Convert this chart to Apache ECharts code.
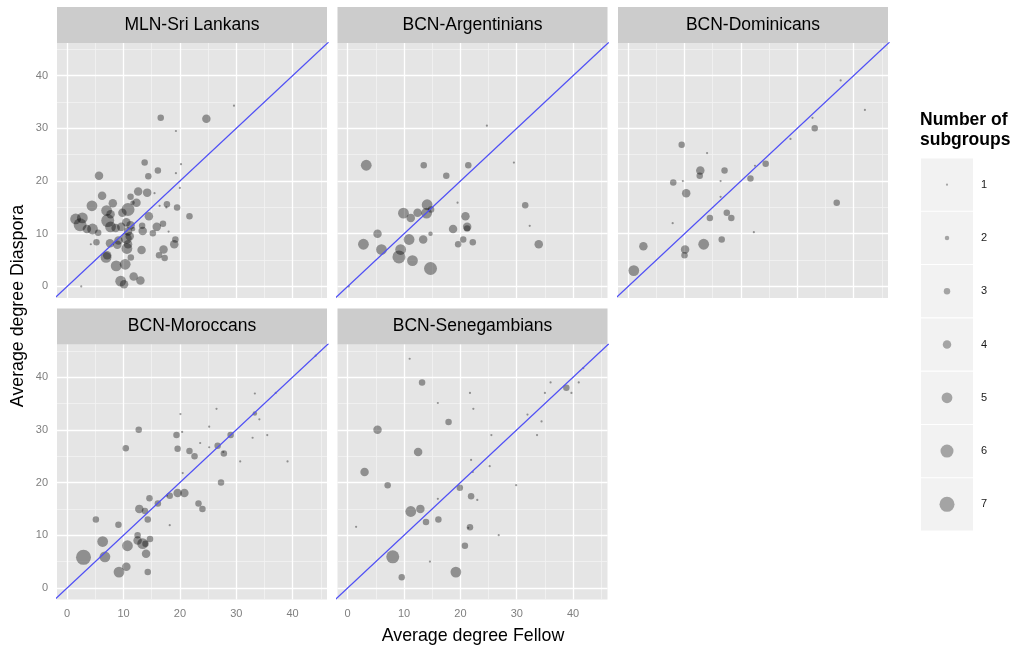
<!DOCTYPE html>
<html><head><meta charset="utf-8">
<script src="https://cdn.jsdelivr.net/npm/echarts@6/dist/echarts.min.js"></script>
<style>html,body{margin:0;padding:0;background:#fff}#c{width:1014px;height:649px}</style>
</head><body><div id="c"></div><script>
// ---------- data: [fellow degree, diaspora degree, number of subgroups] ----------
const panelNames = ['MLN-Sri Lankans','BCN-Argentinians','BCN-Dominicans','BCN-Moroccans','BCN-Senegambians'];
const mlnSriLankans = [
 [2.5,0,1],[16.6,32,3],[24.7,31.8,4],[29.6,34.3,1],[19.3,29.5,1],[13.75,23.5,3],[16.1,22,3],[20.2,23.2,1],
 [19.3,21.5,1],[14.4,20.9,3],[5.65,21,4],[20,18.7,1],[12.6,18,4],[14.2,17.8,4],[15.5,17.7,1],[6.2,17.2,4],
 [11.25,17,3],[12.3,15.9,4],[8.1,15.8,4],[11.6,15.9,2],[4.4,15.3,5],[10.8,14.6,6],[7,14.4,5],[9.8,14,4],
 [7.7,13.7,4],[17.7,15.6,3],[16.4,15.3,1],[19.5,15,3],[17.6,15,1],[21.7,13.3,3],[14.5,13.3,4],[1.5,12.8,5],
 [2.7,13,5],[7.2,12.5,6],[2.3,11.7,6],[3.5,10.9,4],[4.5,10.9,5],[7.7,11.3,5],[8.6,11.1,4],[9.6,11.3,4],
 [10.5,12.2,4],[11.25,11.6,4],[11.7,10.9,2],[10.8,10.4,4],[13.3,11.5,3],[13.4,10.5,4],[15.9,11.3,4],[17,11.9,3],
 [15.2,10.1,3],[18,10.4,1],[5.5,10.2,3],[4.2,8,1],[5.2,8.4,3],[7.6,8.2,4],[9.1,8.7,4],[8.9,7.9,4],
 [10.5,9.1,5],[11.1,9.5,4],[10.6,7.2,5],[10.8,8,4],[13.2,6.9,4],[11.3,5.5,3],[19.2,8.9,3],[19,8,4],
 [17.1,7,4],[16.3,5.9,3],[17.3,5.4,3],[6.9,5.5,5],[7.1,5.9,4],[8.7,3.9,5],[10.3,4.2,5],[11.8,1.9,4],
 [13,1.1,4],[9.5,1,5],[10.1,0.4,4]
];
const bcnArgentinians = [
 [0.2,0,1],[24.7,30.5,1],[3.3,23,5],[13.5,23,3],[21.4,23,3],[29.5,23.5,1],[17.5,21,3],[19.5,15.9,1],
 [31.5,15.4,3],[14.1,15.5,5],[14.8,14.6,3],[14,13.9,5],[12.4,14,4],[9.9,13.9,5],[11.2,13,4],[20.9,13.3,4],
 [32.3,11.5,1],[21.2,11.3,4],[21.2,11,3],[18.7,10.9,4],[14.7,10,2],[5.3,10,4],[10.9,8.9,5],[13.4,8.9,4],
 [20.5,8.9,3],[22.2,8.4,3],[19.6,8,3],[33.9,8,4],[2.8,8,5],[6,7,5],[9.4,7,5],[9.1,5.6,6],[11.5,4.9,5],[14.7,3.4,6]
];
const bcnDominicans = [
 [37.7,39.1,1],[42,33.5,1],[32.7,32,1],[33.1,30,3],[28.8,28,1],[9.5,26.9,3],[14,25.3,1],[12.8,22,4],
 [17.1,22,3],[12.7,21,3],[22.5,22.9,1],[24.4,23.3,3],[21.7,20.5,3],[8,19.7,3],[9.7,20,1],[16.4,20,1],
 [10.3,17.7,4],[16.4,17,1],[37,15.9,3],[17.5,14,3],[14.5,13,3],[18.3,13,3],[7.9,12,1],[22.3,10.3,1],
 [16.6,8.9,3],[13.4,8,5],[2.7,7.6,4],[10.1,7,4],[10,5.9,3],[1,3,5]
];
const bcnMoroccans = [
 [44.1,44.1,1],[33.3,36.9,1],[37,37,1],[26.5,34,1],[20.1,33,1],[33.3,33.1,2],[34.1,32,1],[25.2,30.6,1],
 [12.7,30,3],[20.4,29.6,1],[19.4,29,3],[29,29,3],[32.9,28.5,1],[35.5,29,1],[23.6,27.5,1],[25.2,26.7,1],
 [26.7,27,3],[10.4,26.5,3],[19.6,26.4,3],[21.7,26,3],[22.6,25,3],[27.7,25.8,1],[27.8,25.5,3],[30.7,24,1],
 [39.1,24,1],[20.5,21.8,1],[27.3,20,3],[19.6,18,4],[20.8,18,4],[18.2,17.5,3],[17.7,17.5,1],[14.6,17,3],
 [16.1,16,3],[23.3,16,3],[24,15,3],[12.8,15,4],[13.8,14.6,3],[5.1,13,3],[14.3,13,3],[9.1,12,3],
 [18.2,11.9,1],[12.5,10,3],[12.5,9,4],[14.7,9.3,3],[13.4,8.4,5],[13.9,8.4,3],[6.3,8.8,5],[10.7,8,5],
 [6.7,5.9,5],[14,6.5,4],[2.9,5.8,7],[10.5,4,4],[9.2,3,5],[14.3,3,3]
];
const bcnSenegambians = [
 [11,43.5,1],[13.2,39,3],[21.7,37,1],[16,35.1,1],[22.3,34,1],[17.9,31.5,3],[5.3,30,4],[25.5,29,1],
 [12.5,25.8,4],[21.9,24.3,1],[25.2,23.1,1],[22.2,22,1],[3,22,4],[7.1,19.5,3],[19.9,19,3],[29.9,19.5,1],
 [21.9,17.4,3],[23,16.7,1],[16,16.9,1],[11.2,14.5,5],[12.9,15,4],[16.1,13,3],[13.9,12.5,3],[1.5,11.6,1],
 [21.7,11.5,3],[21.4,11.4,1],[26.8,10,1],[20.8,8,3],[8,5.9,6],[14.6,5,1],[19.2,3,5],[9.6,2,3],
 [31.9,32.9,1],[34.4,31.6,1],[33.6,29,1],[35,37,1],[36,39,1],[38.8,38,3],[39.7,37,1],[41,39,1],[41.8,41.7,1]
];
const panelData = [mlnSriLankans, bcnArgentinians, bcnDominicans, bcnMoroccans, bcnSenegambians];
const xTicks = [0,10,20,30,40];
const yTicks = [0,10,20,30,40];
const minorBreaks = [5,15,25,35,45];
const legendLevels = [1,2,3,4,5,6,7];

// ---------- layout & style ----------
const FONT = "'Liberation Sans', Arial, sans-serif";
const xLim = [-1.8, 46.1], yLim = [-2.2, 46.2];
const sizePx = [2.2, 4.5, 6.5, 8.5, 10.8, 13, 15];
const colLeft = [57, 337.5, 618], panelW = 270;
const rowTop = [43, 344.5], panelH = 255, stripH = 36;
const ptColor = 'rgba(0,0,0,0.47)';

const grid = [], xAxis = [], yAxis = [], series = [], graphic = [];
panelNames.forEach((name, i) => {
  const row = i < 3 ? 0 : 1, col = i % 3;
  const left = colLeft[col], top = rowTop[row];
  grid.push({left, top, width: panelW, height: panelH, show: true, backgroundColor: '#E5E5E5', borderWidth: 0});
  const showX = row === 1, showY = col === 0;
  xAxis.push({gridIndex: i, type: 'value', min: xLim[0], max: xLim[1],
    axisLine: {show: false}, splitLine: {show: false},
    axisTick: {show: showX, length: 4, customValues: xTicks, lineStyle: {color: '#7f7f7f'}},
    axisLabel: {show: showX, customValues: xTicks, color: '#7f7f7f', fontSize: 11, margin: 9, fontFamily: FONT}});
  yAxis.push({gridIndex: i, type: 'value', min: yLim[0], max: yLim[1],
    axisLine: {show: false}, splitLine: {show: false},
    axisTick: {show: showY, length: 4, customValues: yTicks, lineStyle: {color: '#7f7f7f'}},
    axisLabel: {show: showY, customValues: yTicks, color: '#7f7f7f', fontSize: 11, margin: 9, fontFamily: FONT}});
  const minorStyle = {color: '#F2F2F2', width: 0.8, type: 'solid'};
  const majorStyle = {color: '#FFFFFF', width: 1.3, type: 'solid'};
  series.push({type: 'scatter', xAxisIndex: i, yAxisIndex: i, data: [], z: 1, silent: true,
    markLine: {z: 1, silent: true, symbol: ['none','none'], label: {show: false}, animation: false,
      lineStyle: {type: 'solid'}, emphasis: {disabled: true},
      data: [
        ...minorBreaks.map(v => ({xAxis: v, lineStyle: minorStyle})),
        ...minorBreaks.map(v => ({yAxis: v, lineStyle: minorStyle})),
        ...xTicks.map(v => ({xAxis: v, lineStyle: majorStyle})),
        ...yTicks.map(v => ({yAxis: v, lineStyle: majorStyle}))
      ]}});
  series.push({type: 'scatter', xAxisIndex: i, yAxisIndex: i, data: panelData[i], z: 6, silent: true,
    symbol: 'circle', symbolSize: d => sizePx[d[2]-1], itemStyle: {color: ptColor}});
  const lo = Math.min(xLim[0], yLim[0]) - 1, hi = Math.max(xLim[1], yLim[1]) + 1;
  series.push({type: 'line', xAxisIndex: i, yAxisIndex: i, data: [[lo, lo], [hi, hi]], z: 7, silent: true,
    symbol: 'none', clip: true, lineStyle: {color: '#5050f5', width: 1.3}});
  graphic.push({type: 'rect', shape: {x: left, y: top - stripH, width: panelW, height: stripH},
    style: {fill: '#CCCCCC'}, silent: true,
    textContent: {style: {text: name, fill: '#000', font: '17.5px ' + FONT}},
    textConfig: {position: 'inside'}});
});

// legend as its own small grid
const L = panelNames.length;
grid.push({left: 921, top: 158, width: 52, height: 373, show: false});
xAxis.push({gridIndex: L, type: 'value', min: 0, max: 1, show: false});
yAxis.push({gridIndex: L, type: 'category', data: legendLevels.map(String), inverse: true, position: 'right',
  axisLine: {show: false}, axisTick: {show: false}, splitLine: {show: false},
  axisLabel: {color: '#1a1a1a', fontSize: 11, margin: 8, fontFamily: FONT}});
series.push({type: 'bar', xAxisIndex: L, yAxisIndex: L, data: legendLevels.map(() => 1), barCategoryGap: '2%',
  itemStyle: {color: '#F2F2F2'}, silent: true, z: 1});
series.push({type: 'scatter', xAxisIndex: L, yAxisIndex: L, data: legendLevels.map((n, k) => [0.5, k, n]),
  symbol: 'circle', symbolSize: d => sizePx[d[2]-1], itemStyle: {color: 'rgba(0,0,0,0.4)'}, silent: true, z: 2});

graphic.push({type: 'text', x: 473, y: 636, silent: true,
  style: {text: 'Average degree Fellow', fill: '#000', font: '17.8px ' + FONT, textAlign: 'center', textVerticalAlign: 'middle'}});
graphic.push({type: 'text', x: 18, y: 306, rotation: Math.PI / 2, silent: true,
  style: {text: 'Average degree Diaspora', fill: '#000', font: '17.8px ' + FONT, textAlign: 'center', textVerticalAlign: 'middle'}});

const chart = echarts.init(document.getElementById('c'), null, {renderer: 'canvas'});
chart.setOption({
  animation: false,
  backgroundColor: '#fff',
  textStyle: {fontFamily: FONT},
  title: {text: 'Number of\nsubgroups', left: 920, top: 110, padding: 0,
    textStyle: {fontSize: 17.5, fontWeight: 'bold', color: '#000', lineHeight: 20, fontFamily: FONT}},
  grid, xAxis, yAxis, series, graphic
});
</script></body></html>
